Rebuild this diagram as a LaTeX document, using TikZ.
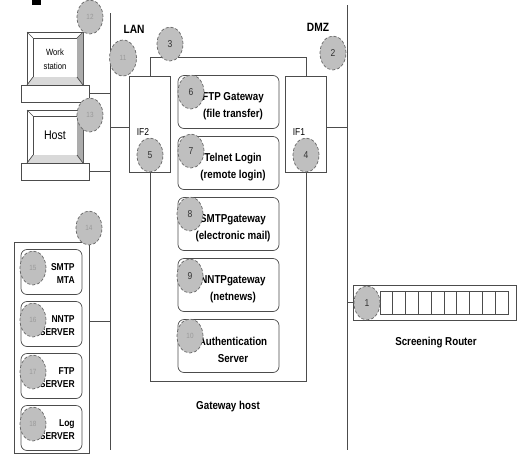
\documentclass[tikz,border=0pt]{standalone}
\usepackage{fontspec}
\setmainfont{Liberation Sans}[FakeStretch=0.85]
\usetikzlibrary{shapes.geometric}

\begin{document}
\begin{tikzpicture}[
    x=1pt, y=-1pt,
    line width=0.7pt,
    wire/.style = {draw=black!70},
    num/.style = {
      ellipse,
      draw = black!60,
      densely dashed,
      fill = gray!50,
      inner sep = 0pt,
      minimum width = 26pt,
      minimum height = 34pt,
      font = \fontsize{10}{10}\selectfont,
      text = black!80
    },
    numlite/.style = {num, font=\fontsize{7.5}{7.5}\selectfont, text=black!40},
    service/.style = {
      draw = black!70,
      fill = white,
      rounded corners = 6pt,
      minimum width = 101pt,
      minimum height = 53pt,
      inner sep = 0pt
    },
    server/.style = {service, minimum width=61pt, minimum height=45pt},
    iface/.style = {
      draw = black!70,
      fill = white,
      minimum width = 41pt,
      minimum height = 96pt,
      inner sep = 0pt
    },
    gwtext/.style = {font=\bfseries\fontsize{11.5}{17}\selectfont, align=center, inner sep=0pt},
    srvtext/.style = {font=\bfseries\fontsize{10}{13}\selectfont, align=right, anchor=east, inner sep=0pt},
    nettag/.style = {font=\bfseries\fontsize{12}{12}\selectfont, inner sep=0pt},
    iftag/.style = {font=\fontsize{10}{10}\selectfont, inner sep=0pt}
  ]
  \useasboundingbox (0,0) rectangle (517,464);
  \fill (32,0) rectangle (41,5);

  % the two network lines
  \coordinate (lan-top) at (110,13);
  \coordinate (lan-bot) at (110,450);
  \coordinate (dmz-top) at (347,5);
  \coordinate (dmz-bot) at (347,450);
  \draw[wire] (lan-top) -- (lan-bot);
  \draw[wire] (dmz-top) -- (dmz-bot);
  \node[nettag] (lan) at (134,29) {LAN};
  \node[nettag] (dmz) at (318,27) {DMZ};

  % workstation and host
  \foreach \t/\name in {32/ws, 110/host} {
    \draw[wire] (27,\t) rectangle (83,\t+53);
    \draw[wire] (33,\t+6) rectangle (77,\t+45);
    \fill[gray!65] (77,\t+6) -- (83,\t) -- (83,\t+53) -- (77,\t+45) -- cycle;
    \fill[gray!30] (33,\t+45) -- (77,\t+45) -- (83,\t+53) -- (27,\t+53) -- cycle;
    \draw[wire] (27,\t) -- (33,\t+6)  (83,\t) -- (77,\t+6)
                (27,\t+53) -- (33,\t+45)  (83,\t+53) -- (77,\t+45);
    \node[draw=black!70, minimum width=68pt, minimum height=17pt, inner sep=0pt]
      (\name-base) at (55,\t+61.5) {};
    \draw[wire] (\name-base.east) -- (\name-base.east -| lan-top);
  }
  \node[font=\fontsize{9}{14}\selectfont, align=center] (ws) at (55,59) {Work\\station};
  \node[font=\fontsize{12.5}{12.5}\selectfont] (host) at (55,135) {Host};

  % gateway host
  \node[draw=black!70, minimum width=156pt, minimum height=324pt, inner sep=0pt]
    (gwhost) at (228,219) {};
  \node[gwtext] (gwname) at (228,407) {Gateway host};
  \node[iface] (if2) at (150,124) {};
  \node[iface] (if1) at (306,124) {};
  \draw[wire] ([yshift=-3pt]if2.west) -- ([yshift=-3pt]if2.west -| lan-top);
  \draw[wire] ([yshift=-3pt]if1.east) -- ([yshift=-3pt]if1.east -| dmz-top);
  \node[iftag] at (143,132) {IF2};
  \node[iftag] at (299,132) {IF1};

  \foreach \c/\n/\txt in {
      102/6/{FTP Gateway\\(file transfer)},
      163/7/{Telnet Login\\(remote login)},
      224/8/{SMTPgateway\\(electronic mail)},
      285/9/{NNTPgateway\\(netnews)},
      346/10/{Authentication\\Server}} {
    \node[service] (svc-\n) at (228.5,\c) {};
    \node[gwtext] (svc-\n-txt) at (233,\c+4) {\txt};
  }

  % internal servers
  \node[draw=black!70, minimum width=75pt, minimum height=211pt, inner sep=0pt]
    (srvgrp) at (51.5,347.5) {};
  \coordinate (grp-port) at (89,321);
  \draw[wire] (grp-port) -- (grp-port -| lan-top);
  \foreach \c/\n/\txt in {
      272/15/{SMTP\\MTA},
      324/16/{NNTP\\SERVER},
      376/17/{FTP\\SERVER},
      428/18/{Log\\SERVER}} {
    \node[server] (srv-\n) at (51.5,\c) {};
    \node[srvtext] (srv-\n-txt) at (75,\c+2) {\txt};
  }

  % screening router
  \node[draw=black!70, fill=white, minimum width=163pt, minimum height=35pt, inner sep=0pt]
    (router) at (434.5,302.5) {};
  \draw[wire] (router.west) -- (router.west -| dmz-top);
  \foreach \i in {0,...,9}
    \draw[wire] (380+\i*12.8,291) rectangle +(12.8,23);
  \node[gwtext] (routername) at (436,343) {Screening Router};

  % numbered markers
  \node[num] (m1) at (367,303) {1};
  \node[num] (m2) at (333,53) {2};
  \node[num] (m3) at (170,44) {3};
  \node[num] (m4) at (306,155) {4};
  \node[num] (m5) at (150,155) {5};
  \node[num] (m6) at (191,92) {6};
  \node[num] (m7) at (191,151) {7};
  \node[num] (m8) at (190,214) {8};
  \node[num] (m9) at (190,276) {9};
  \node[numlite] (m10) at (190,336) {10};
  \node[numlite, minimum width=27pt, minimum height=36pt] (m11) at (123,58) {11};
  \node[numlite] (m12) at (90,17) {12};
  \node[numlite] (m13) at (90,115) {13};
  \node[numlite] (m14) at (89,228) {14};
  \node[numlite] (m15) at (33,268) {15};
  \node[numlite] (m16) at (33,320) {16};
  \node[numlite] (m17) at (33,372) {17};
  \node[numlite] (m18) at (33,424) {18};
\end{tikzpicture}
\end{document}
